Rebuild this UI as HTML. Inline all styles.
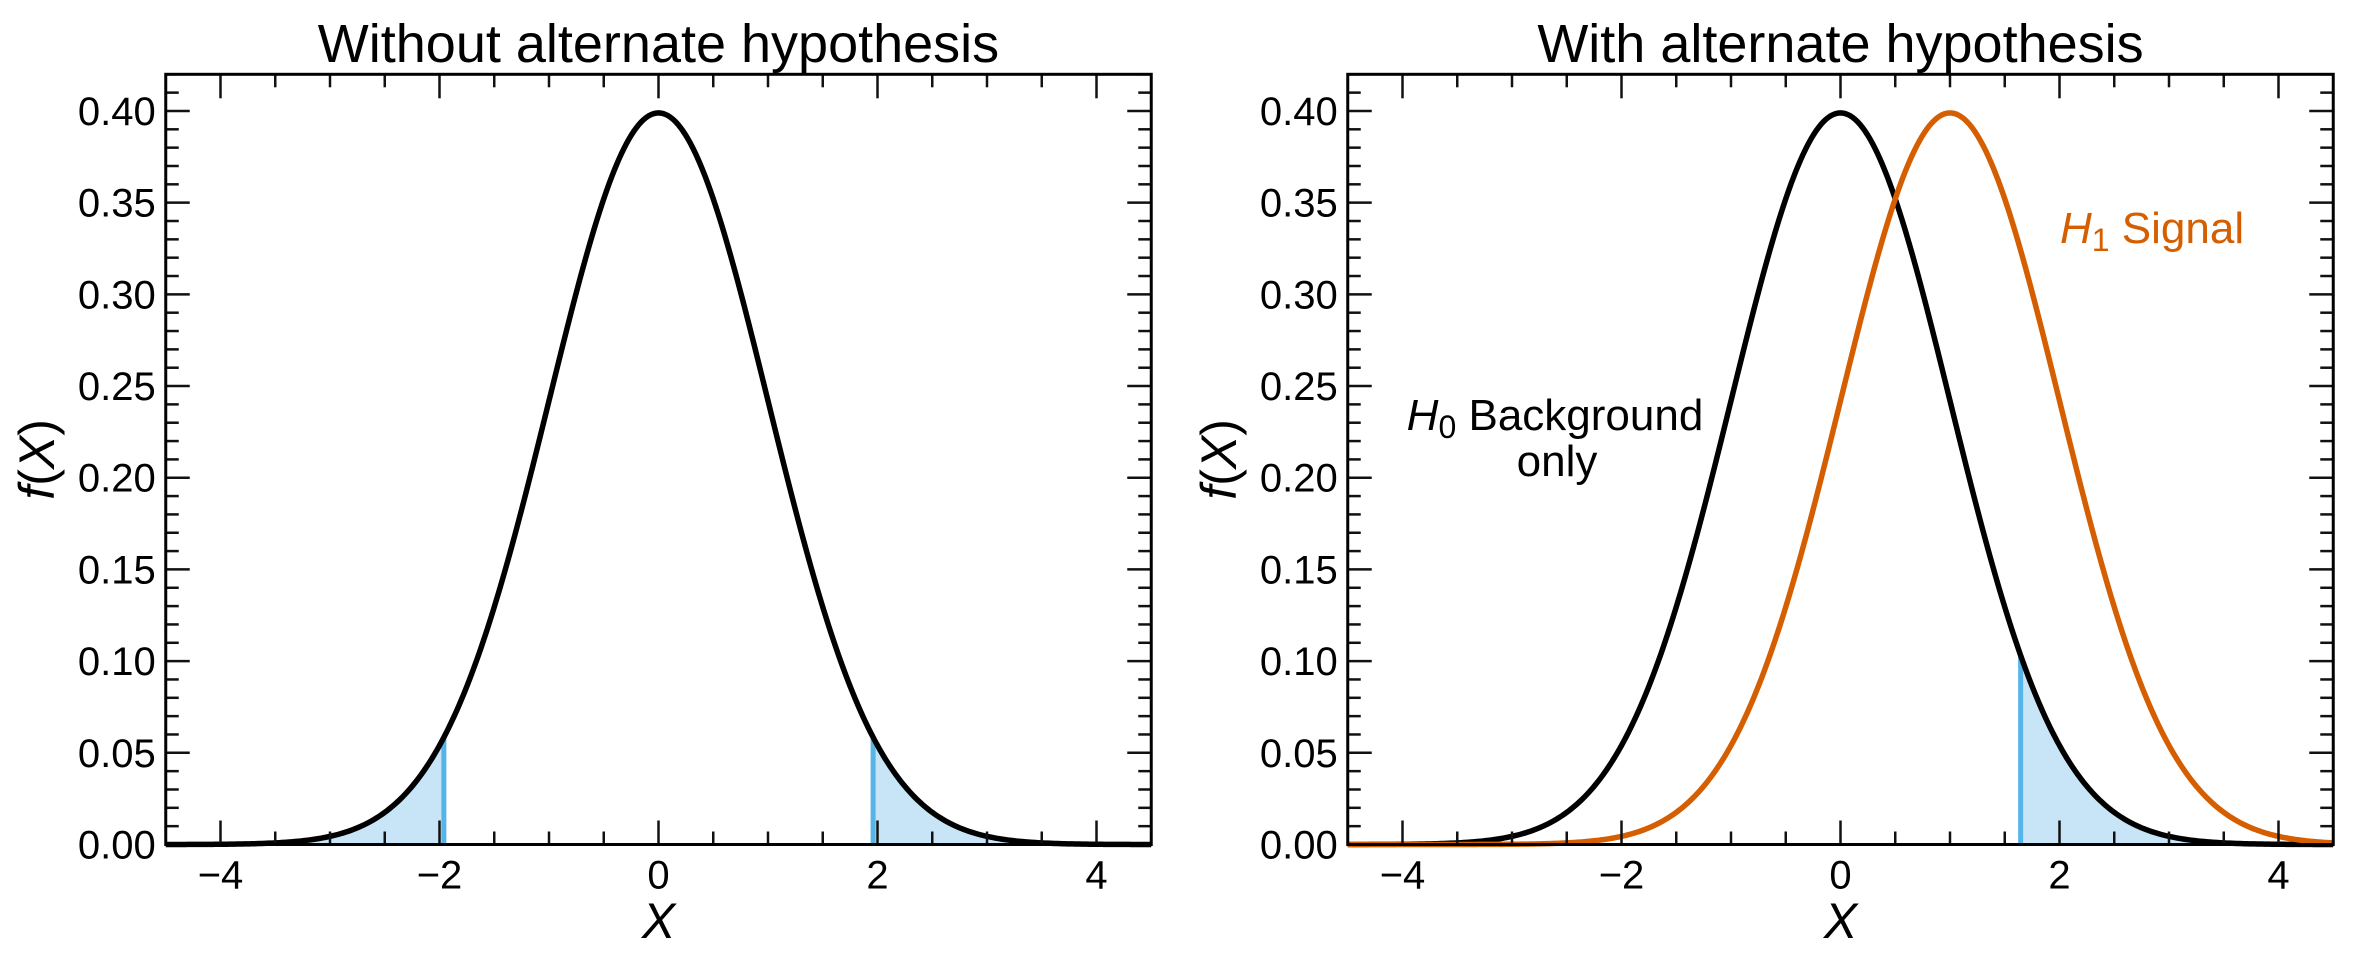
<!DOCTYPE html>
<html><head><meta charset="utf-8"><style>
body{margin:0;background:#fff;}
svg{display:block;font-family:"Liberation Sans",Arial,sans-serif;}
</style></head><body>
<svg id="fig" width="2355" height="968" viewBox="0 0 2355 968"></svg>
<script>
const xTicks=[-4,-2,0,2,4];
const yTicks=[0,0.05,0.10,0.15,0.20,0.25,0.30,0.35,0.40];
const yTickLabels=["0.00","0.05","0.10","0.15","0.20","0.25","0.30","0.35","0.40"];
const xTickLabels=["\u22124","\u22122","0","2","4"];
const backgroundMean=[0];
const signalMean=[1];
const sigmaValues=[1];
const leftCuts=[-1.96,1.96];
const rightCut=[1.645];
const titles=["Without alternate hypothesis","With alternate hypothesis"];
const NS="http://www.w3.org/2000/svg";
const svgRoot=document.getElementById('fig');
function el(t,a,p){const e=document.createElementNS(NS,t);for(const k in a)e.setAttribute(k,a[k]);(p||svgRoot).appendChild(e);return e;}
function pdf(x,m,s){return Math.exp(-0.5*((x-m)/s)**2)/(s*Math.sqrt(2*Math.PI));}
const X0=-4.5,X1=4.5,Y0=0,Y1=0.42,plotTop=74.3,plotBot=844.5;
function panel(left,right,idx){
  const g=el('g',{});
  
  
  const sx=x=>left+(x-X0)/(X1-X0)*(right-left);
  const sy=y=>plotBot-(y-Y0)/(Y1-Y0)*(plotBot-plotTop);
  function curvePath(m,a,b){let d='';const n=400;for(let i=0;i<=n;i++){const x=a+(b-a)*i/n;d+=(i?'L':'M')+sx(x).toFixed(2)+','+sy(pdf(x,m,sigmaValues[0])).toFixed(2);}return d;}
  function fill(a,b,nm){
    const p=el('path',{d:curvePath(backgroundMean[0],a,b)+'L'+sx(b)+','+sy(0)+'L'+sx(a)+','+sy(0)+'Z',fill:'#c8e5f7',stroke:'none'},g);
    
    
  }
  function cutLine(c,nm){
    const l=el('line',{x1:sx(c),x2:sx(c),y1:sy(0),y2:sy(pdf(c,backgroundMean[0],sigmaValues[0])),stroke:'#56b4e9','stroke-width':5},g);
    
    
  }
  if(idx===0){fill(X0,leftCuts[0],'left-tail-fill');fill(leftCuts[1],X1,'right-tail-fill');cutLine(leftCuts[0],'left-critical-line');cutLine(leftCuts[1],'right-critical-line');}
  else{fill(rightCut[0],X1,'rejection-region-fill');cutLine(rightCut[0],'critical-line');}
  const c=el('path',{d:curvePath(backgroundMean[0],X0,X1),fill:'none',stroke:'#000','stroke-width':5.5},g);
  
  
  if(idx===1){const s=el('path',{d:curvePath(signalMean[0],X0,X1),fill:'none',stroke:'#d55e00','stroke-width':5.5},g);
    
    }
  for(let k=-9;k<=9;k++){const x=k*0.5;const maj=k%4===0;const L=maj?24:13;
    el('line',{x1:sx(x),x2:sx(x),y1:plotBot,y2:plotBot-L,stroke:'#111','stroke-width':2.5},g);
    el('line',{x1:sx(x),x2:sx(x),y1:plotTop,y2:plotTop+L,stroke:'#111','stroke-width':2.5},g);}
  for(let k=0;k<=42;k++){const y=k*0.01;const maj=k%5===0;const L=maj?24:13;
    el('line',{x1:left,x2:left+L,y1:sy(y),y2:sy(y),stroke:'#111','stroke-width':2.5},g);
    el('line',{x1:right,x2:right-L,y1:sy(y),y2:sy(y),stroke:'#111','stroke-width':2.5},g);}
  const fr=el('rect',{x:left,y:plotTop,width:right-left,height:plotBot-plotTop,fill:'none',stroke:'#000','stroke-width':3},g);
  
  
  xTicks.forEach((v,i)=>{const t=el('text',{x:sx(v),y:plotBot+44,'font-size':40,'text-anchor':'middle'},g);t.textContent=xTickLabels[i];
    
    });
  yTicks.forEach((v,i)=>{const t=el('text',{x:left-10,y:sy(v)+14,'font-size':40,'text-anchor':'end'},g);t.textContent=yTickLabels[i];
    
    });
  const ti=el('text',{x:(left+right)/2,y:62,'font-size':54,'text-anchor':'middle'},g);ti.textContent=titles[idx];
  
  
  const xl=el('text',{x:(left+right)/2,y:938,'font-size':50,'font-style':'italic','text-anchor':'middle'},g);xl.textContent='X';
  
  
  const yl=el('text',{x:0,y:0,'font-size':50,'text-anchor':'middle',transform:`translate(${left-112},${(plotTop+plotBot)/2}) rotate(-90)`},g);
  yl.innerHTML='<tspan font-style="italic">f</tspan>(<tspan font-style="italic">X</tspan>)';
  
  
  if(idx===1){
    const a=el('text',{x:1555,y:430,'font-size':44,'text-anchor':'middle'},g);
    a.innerHTML='<tspan font-style="italic">H</tspan><tspan font-size="32" dy="8">0</tspan><tspan dy="-8"> Background</tspan>';
    
    
    const b=el('text',{x:1557,y:476,'font-size':44,'text-anchor':'middle'},g);b.textContent='only';
    
    
    const s=el('text',{x:2060,y:243,'font-size':44,fill:'#d55e00'},g);
    s.innerHTML='<tspan font-style="italic">H</tspan><tspan font-size="32" dy="8">1</tspan><tspan dy="-8"> Signal</tspan>';
    
    
  }
}
panel(165.75,1151.25,0);
panel(1347.75,2333.25,1);
</script>
</body></html>
